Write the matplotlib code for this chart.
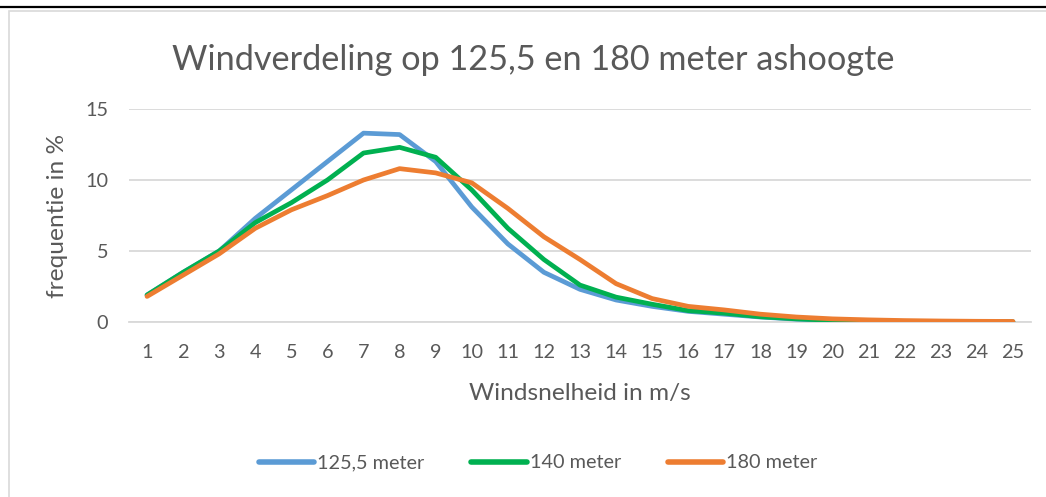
import matplotlib
matplotlib.use("Agg")
import matplotlib.pyplot as plt
from matplotlib.lines import Line2D
from matplotlib.patches import Rectangle

plt.rcParams['font.family'] = ['Lato', 'DejaVu Sans']

# Wind speed classes (m/s) and frequency (%) per hub height
windsnelheid = list(range(1, 26))
freq_125_5 = [1.9, 3.5, 5.0, 7.3, 9.3, 11.3, 13.3, 13.2, 11.3, 8.1, 5.5, 3.5, 2.3,
              1.55, 1.1, 0.75, 0.55, 0.35, 0.2, 0.1, 0.06, 0.03, 0.02, 0.01, 0.01]
freq_140 = [1.9, 3.5, 5.0, 7.0, 8.4, 10.0, 11.9, 12.3, 11.6, 9.3, 6.6, 4.4, 2.6,
            1.75, 1.25, 0.8, 0.62, 0.37, 0.22, 0.12, 0.07, 0.04, 0.02, 0.01, 0.01]
freq_180 = [1.8, 3.3, 4.8, 6.6, 7.9, 8.9, 10.0, 10.8, 10.5, 9.8, 8.0, 6.0, 4.4,
            2.7, 1.65, 1.1, 0.85, 0.55, 0.35, 0.22, 0.15, 0.1, 0.07, 0.05, 0.04]
series_labels = ['125,5 meter', '140 meter', '180 meter']
series_colors = ['#5B9BD5', '#00B050', '#ED7D31']
y_ticks = [0, 5, 10, 15]

TEXT = '#595959'
GRID = '#D9D9D9'
W, H = 1046, 497

fig = plt.figure(figsize=(W / 100, H / 100), dpi=100)

# heading rule and chart frame
fig.add_artist(Line2D([0, 1], [1 - 7 / H, 1 - 7 / H], transform=fig.transFigure,
                      color='black', lw=1.6))
fig.add_artist(Rectangle((8.5 / W, -0.01), 1.2, 1 - 10.5 / H + 0.01,
                         transform=fig.transFigure, fill=False,
                         edgecolor=GRID, lw=1.2))

ax = fig.add_axes([129 / W, (H - 322) / H, 902 / W, 213 / H])

for vals, lab, col in zip([freq_125_5, freq_140, freq_180], series_labels, series_colors):
    ax.plot(windsnelheid, vals, color=col, lw=3.4, label=lab,
            solid_capstyle='round', solid_joinstyle='round', zorder=3)

ax.set_xlim(0.5, 25.5)
ax.set_ylim(0, 15)
ax.set_xticks(windsnelheid)
ax.set_yticks(y_ticks)
ax.grid(axis='y', color=GRID, lw=1.3, zorder=0)
ax.set_axisbelow(True)
for s in ['top', 'right', 'left']:
    ax.spines[s].set_visible(False)
ax.spines['bottom'].set_color(GRID)
ax.spines['bottom'].set_linewidth(1.3)
ax.tick_params(axis='both', length=0, labelsize=14.3, labelcolor=TEXT)
ax.tick_params(axis='y', pad=15)
ax.tick_params(axis='x', pad=16)

ax.set_xlabel('Windsnelheid in m/s', fontsize=17.6, color=TEXT, labelpad=16)
ax.set_ylabel('frequentie in %', fontsize=17.6, color=TEXT, labelpad=12)

fig.text(533 / W, 1 - 60 / H, 'Windverdeling op 125,5 en 180 meter ashoogte',
         ha='center', va='center', fontsize=24.7, color=TEXT)

leg = fig.legend(loc='center', bbox_to_anchor=(538 / W, 1 - 463 / H), ncol=3,
                 frameon=False, fontsize=14.3, handlelength=2.8,
                 handletextpad=0.15, columnspacing=2.35)
for t in leg.get_texts():
    t.set_color(TEXT)
for h in leg.get_lines():
    h.set_linewidth(4)
    h.set_solid_capstyle('round')

fig.savefig('out.png', dpi=100)
